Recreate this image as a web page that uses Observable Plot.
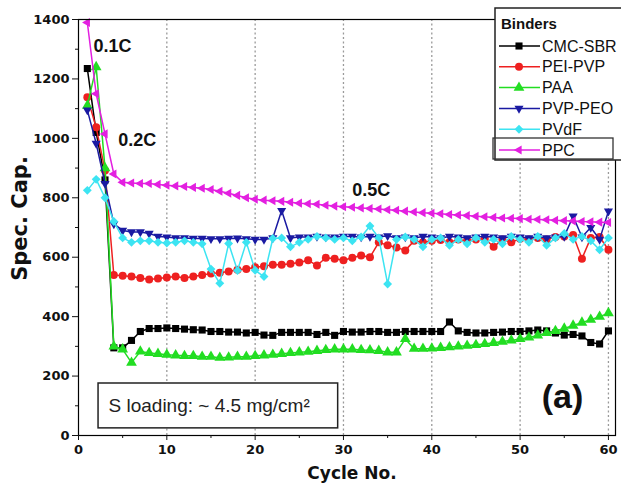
<!DOCTYPE html>
<html><head><meta charset="utf-8">
<script src="https://cdn.jsdelivr.net/npm/d3@7"></script>
<script src="https://cdn.jsdelivr.net/npm/@observablehq/plot@0.6"></script>
<style>body{margin:0;background:#fff} #chart{position:relative;width:621px;height:496px;overflow:hidden}</style>
</head><body><div id="chart"></div>
<script>
const cycles = d3.range(1, 61);
const cmcSbr = [1235,1020,860,295,295,320,350,360,360,362,360,358,356,355,350,350,348,348,345,347,338,337,347,347,347,347,340,347,337,350,348,348,350,350,347,347,350,350,350,350,350,382,352,347,345,345,347,348,350,350,352,355,352,345,338,340,335,313,308,352];
const peiPvp = [1138,1037,892,540,538,535,530,525,528,532,535,530,535,540,545,548,552,558,560,566,570,575,575,578,582,590,572,598,595,590,598,606,600,650,640,633,623,655,650,655,658,650,660,655,660,662,635,660,650,662,660,665,660,668,670,675,595,665,668,625];
const paa = [1110,1240,900,300,290,245,283,278,275,272,270,268,268,265,265,262,263,265,265,268,270,272,275,278,280,282,285,288,290,290,290,288,287,285,280,280,325,292,292,293,295,297,300,302,305,308,312,316,320,325,330,337,345,352,360,370,380,390,400,412];
const pvpPeo = [1095,983,848,712,690,685,685,680,670,668,665,665,663,663,662,662,663,664,662,660,660,665,757,665,668,668,670,668,668,670,670,668,670,668,672,665,668,665,670,668,665,670,668,665,668,670,668,665,670,668,665,670,665,668,670,738,668,700,660,755];
const pvdf = [825,862,800,720,665,650,655,655,650,648,650,655,650,645,560,512,646,555,650,556,535,663,665,635,650,660,670,665,660,665,655,668,705,665,510,660,668,660,635,660,665,640,660,645,665,650,660,645,670,660,650,670,640,665,680,660,670,655,625,665];
const ppc = [1390,1150,1015,880,852,850,848,848,845,842,840,838,835,832,828,822,815,808,800,795,792,790,788,785,782,780,778,775,772,770,768,766,764,762,760,758,755,752,750,748,746,744,742,740,738,736,734,732,731,730,728,727,726,724,723,722,720,719,718,717];

const seriesNames = ["CMC-SBR","PEI-PVP","PAA","PVP-PEO","PVdF","PPC"];
const seriesValues = [cmcSbr, peiPvp, paa, pvpPeo, pvdf, ppc];
const seriesColors = ["#000000","#ee2020","#22dd22","#1a1aa2","#3ce4f2","#e31fe0"];
const xTicks = [0,10,20,30,40,50,60];
const xMinorTicks = [5,15,25,35,45,55];
const yTicks = [0,200,400,600,800,1000,1200,1400];
const yMinorTicks = [100,300,500,700,900,1100,1300];
const gridX = [10,20,30,40,50,60];

const rateLabels = ["0.1C","0.2C","0.5C"];
const rateX = [1.7,4.5,31.0];
const rateY = [1311,993,825];
const panelLabel = ["(a)"]; const panelX = [54.8]; const panelY = [128];
const loadingText = ["S loading: ~ 4.5 mg/cm\u00b2"];
const loadingBox = [{x1:2.27,x2:29.4,y1:24,y2:175}];
const loadingTextPos = [3.4, 98];

const triDown = {draw(ctx,size){const r=Math.sqrt(size)*0.74;ctx.moveTo(0,r);ctx.lineTo(-r*0.866,-r/2);ctx.lineTo(r*0.866,-r/2);ctx.closePath();}};
const triLeft = {draw(ctx,size){const r=Math.sqrt(size)*0.74;ctx.moveTo(-r,0);ctx.lineTo(r/2,-r*0.866);ctx.lineTo(r/2,r*0.866);ctx.closePath();}};
const plotSymbols = ["square","circle","triangle",triDown,"diamond2",triLeft];
const d3Symbols = [d3.symbolSquare,d3.symbolCircle,d3.symbolTriangle,triDown,d3.symbolDiamond2,triLeft];

const rows = [];
seriesNames.forEach((s,i)=>cycles.forEach((c,j)=>rows.push({series:s,cycle:c,value:seriesValues[i][j]})));

const marks = [
  Plot.ruleX(gridX,{stroke:"#9a9a9a",strokeDasharray:"2,2.5",strokeWidth:1.3}),
  Plot.rect(loadingBox,{x1:"x1",x2:"x2",y1:"y1",y2:"y2",fill:"white",stroke:"#222",strokeWidth:1.5}),
  Plot.text(loadingText,{x:loadingTextPos[0],y:loadingTextPos[1],text:d=>d,textAnchor:"start",fontFamily:"Liberation Sans",fontWeight:"normal",fontSize:19,fill:"#222"})
];
seriesNames.forEach((s,i)=>{
  const data = rows.filter(r=>r.series===s);
  marks.push(Plot.line(data,{x:"cycle",y:"value",stroke:seriesColors[i],strokeWidth:1.5}));
  marks.push(Plot.dot(data,{x:"cycle",y:"value",symbol:plotSymbols[i],r:4,fill:seriesColors[i],stroke:"none"}));
});
marks.push(
  Plot.text(rateLabels,{x:(d,i)=>rateX[i],y:(d,i)=>rateY[i],text:d=>d,textAnchor:"start",fontFamily:"Liberation Sans",fontWeight:"bold",fontSize:18,fill:"#111"}),
  Plot.text(panelLabel,{x:(d,i)=>panelX[i],y:(d,i)=>panelY[i],text:d=>d,fontFamily:"Liberation Sans",fontWeight:"bold",fontSize:34,fill:"#111"}),
  Plot.frame({stroke:"#000",strokeWidth:1.2}),
  Plot.axisX({ticks:xTicks,tickSize:5,tickPadding:4,label:null,tickFormat:d3.format("d"),fontWeight:"bold",fontSize:13}),
  Plot.axisX({ticks:xMinorTicks,tickSize:3,tickFormat:()=>"",label:null}),
  Plot.axisY({ticks:yTicks,tickSize:6,tickPadding:3,label:null,tickFormat:d3.format("d"),fontWeight:"bold",fontSize:13}),
  Plot.axisY({ticks:yMinorTicks,tickSize:3,tickFormat:()=>"",label:null}),
  Plot.text(["Cycle No."],{frameAnchor:"bottom",dy:43,dx:5,textAnchor:"middle",text:d=>d,fontFamily:"DejaVu Sans",fontWeight:"bold",fontSize:17,fill:"#111"}),
  Plot.text(["Spec. Cap."],{frameAnchor:"left",dx:-58,dy:-9,rotate:-90,textAnchor:"middle",text:d=>d,fontFamily:"DejaVu Sans",fontWeight:"bold",fontSize:21,fill:"#111"})
);

const svg = Plot.plot({
  width:621,height:496,
  marginLeft:78,marginRight:6,marginTop:19,marginBottom:61,
  x:{domain:[0,60.8]},
  y:{domain:[0,1400]},
  style:{fontFamily:"DejaVu Sans",fontSize:"13px",color:"#111",background:"white"},
  marks
});
document.getElementById("chart").appendChild(svg);

// Legend
const lg = d3.select(svg).append("g").attr("text-anchor","start");
lg.append("rect").attr("x",495).attr("y",8).attr("width",140).attr("height",152).attr("fill","white").attr("stroke","#222").attr("stroke-width",1.5);
lg.append("text").attr("x",501).attr("y",29).text("Binders").attr("font-family","Liberation Sans").attr("font-weight","bold").attr("font-size",15).attr("fill","#111");
seriesNames.forEach((s,i)=>{
  const y = 46 + i*20.8;
  lg.append("line").attr("x1",499).attr("x2",540).attr("y1",y).attr("y2",y).attr("stroke",seriesColors[i]).attr("stroke-width",1.5);
  lg.append("path").attr("transform",`translate(519,${y})`).attr("d",d3.symbol(d3Symbols[i], 4*4*Math.PI)()).attr("fill",seriesColors[i]);
  lg.append("text").attr("x",542).attr("y",y).attr("dy","0.35em").text(s).attr("font-family","Liberation Sans").attr("font-size",16).attr("fill","#111");
});
lg.append("rect").attr("x",493).attr("y",138).attr("width",120).attr("height",21).attr("fill","none").attr("stroke","#333").attr("stroke-width",1.3);
</script>
</body></html>
